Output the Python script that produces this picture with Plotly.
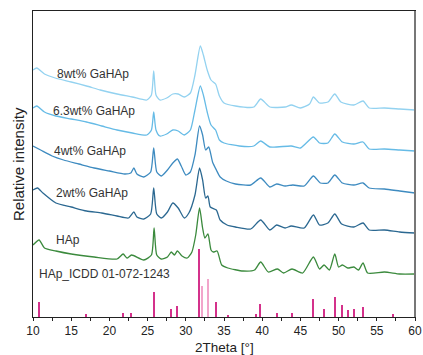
import plotly.graph_objects as go

# ---- data (intensity in arbitrary units, offset per curve) ----
x_8 = [10.0, 10.5, 11.5, 12.9, 15, 17, 18.8, 21, 23, 24.9, 25.5, 25.8, 26.1, 26.6, 27.5, 28.3, 29.0, 29.8, 30.6,
       31.2, 31.9, 32.3, 32.8, 33.3, 33.9, 34.4, 35.0, 36.5, 38.9, 39.8, 41, 43, 43.8, 45, 46.2, 46.7, 47.5, 48.6,
       49.5, 50.3, 52.0, 53.2, 54.0, 56.0, 58, 60]
y_8 = [247, 249, 243, 239, 235, 231, 227, 223, 220, 217, 222, 246, 222, 217, 219, 223, 223, 220, 224,
       242, 271, 262, 247, 237, 233, 221, 214, 211, 210, 218, 210, 210, 212, 209, 213, 220, 214, 215,
       223, 215, 212, 216, 209, 209, 208, 207]

x_63 = [10.0, 10.5, 11.5, 13, 15, 17, 19, 21, 23, 24.9, 25.5, 25.8, 26.1, 26.6, 27.5, 28.3, 29.0, 29.8, 30.6,
        31.2, 31.9, 32.3, 32.8, 33.3, 33.9, 34.4, 35.0, 37, 38.9, 39.8, 41, 43.8, 45, 46.7, 47.5, 48.6, 49.5,
        50.5, 52, 53.2, 54, 56, 58, 60]
y_63 = [209, 211, 205, 201, 198, 195, 191, 187, 184, 182, 187, 205, 187, 181, 183, 187, 186, 182, 187,
        207, 231, 222, 205, 192, 187, 177, 174, 171, 171, 176, 170, 171, 169, 180, 174, 174, 183,
        175, 173, 175, 168, 168, 167, 166]

x_4 = [10.0, 11, 12.5, 14, 16, 18, 20, 22, 22.8, 23.2, 23.6, 24.5, 25.4, 25.8, 26.2, 26.8, 27.6, 28.3, 28.9,
       29.4, 30.0, 30.6, 31.2, 31.8, 32.2, 32.6, 33.0, 33.5, 34.0, 34.5, 35.3, 36.5, 38.5, 39.8, 41.0, 41.9,
       43, 44, 45.5, 46.7, 47.6, 48.6, 49.5, 50.5, 52.0, 53.2, 54.0, 56, 58, 60]
y_4 = [171, 167, 161, 157, 153, 149, 146, 143, 144, 149, 143, 140, 145, 169, 145, 141, 147, 154, 158,
       151, 142, 145, 162, 191, 182, 167, 170, 155, 147, 140, 136, 133, 132, 139, 130, 133,
       131, 132, 131, 141, 134, 134, 142, 134, 132, 134, 129, 128, 126, 124]

x_2 = [10.0, 10.6, 11.3, 13.0, 15, 17, 19, 21, 22.5, 23.2, 23.6, 24.5, 25.4, 25.8, 26.2, 26.8, 27.6, 28.3,
       29.0, 29.8, 30.4, 31.2, 31.8, 32.2, 32.6, 32.9, 33.2, 34.0, 34.5, 35.4, 36.5, 38.5, 39.8, 41.0, 41.9,
       43.0, 43.8, 45.5, 46.7, 47.5, 48.6, 49.5, 50.4, 52.0, 53.2, 54.0, 56.0, 58, 60]
y_2 = [127, 129, 124, 114, 110, 106, 104, 101, 99, 105, 100, 98, 103, 129, 103, 99, 105, 114,
       109, 99, 104, 122, 149, 137, 119, 121, 110, 107, 97, 92, 90, 88, 97, 87, 92,
       89, 91, 89, 102, 92, 94, 103, 93, 90, 94, 87, 87, 85, 84]

x_hap = [10.0, 10.8, 11.5, 13.0, 15, 18, 21, 21.8, 22.3, 22.9, 24.5, 25.5, 25.85, 26.2, 26.8, 27.6, 28.1,
         28.5, 28.9, 29.5, 30.2, 30.8, 31.3, 31.8, 32.2, 32.5, 32.9, 33.3, 33.6, 34.1, 34.7, 35.5, 37.5,
         39.0, 39.8, 40.8, 42.0, 42.8, 43.9, 45.3, 46.7, 47.5, 48.1, 48.8, 49.5, 50.0, 50.5, 51.2, 52.0,
         52.6, 53.2, 53.8, 56.0, 58, 60]
y_hap = [72, 77, 69, 66, 63, 60, 58, 63, 59, 62, 57, 62, 89, 62, 58, 60, 65,
         62, 66, 61, 59, 65, 82, 109, 89, 79, 83, 67, 65, 66, 52, 49, 46,
         47, 55, 45, 48, 44, 48, 44, 60, 48, 52, 47, 63, 50, 52, 49, 50,
         47, 54, 44, 45, 43, 43]

ref_pos = [10.8, 16.9, 21.8, 22.9, 25.9, 28.1, 28.9, 31.8, 32.2, 32.9, 34.0, 35.5, 39.2, 39.8, 42.0, 43.9,
           46.7, 48.1, 49.5, 50.5, 51.3, 52.1, 53.2, 57.1]
ref_int = [15, 3.5, 4.5, 4.5, 25, 8, 11, 68, 31, 38, 15, 2, 3.5, 13, 4, 4,
           18, 8.5, 20, 12, 7.5, 8.5, 10, 3]

labels = ["8wt% GaHAp", "6.3wt% GaHAp", "4wt% GaHAp", "2wt% GaHAp", "HAp", "HAp_ICDD 01-072-1243"]
x_title = "2Theta [°]"
y_title = "Relative intensity"

# ---- styles ----
colors = ["#93d2f0", "#66bbe6", "#3e8bc0", "#2b6891", "#3b8a3d"]
ref_colors = ["#f2a6cb" if p in (32.2, 32.9) else "#d4318b" for p in ref_pos]

fig = go.Figure()
for xs, ys, c in [(x_8, y_8, colors[0]), (x_63, y_63, colors[1]), (x_4, y_4, colors[2]),
                  (x_2, y_2, colors[3]), (x_hap, y_hap, colors[4])]:
    fig.add_trace(go.Scatter(x=xs, y=ys, mode="lines",
                             line=dict(color=c, width=1.3, shape="spline", smoothing=0.6),
                             showlegend=False, hoverinfo="skip"))

fig.add_trace(go.Bar(x=ref_pos, y=ref_int, width=0.18, marker=dict(color=ref_colors, line=dict(width=0)),
                     showlegend=False, hoverinfo="skip"))

label_pos = [(12.9, 243), (12.4, 206), (12.5, 166), (12.8, 124), (12.8, 77), (10.5, 43)]
for t, (lx, ly) in zip(labels, label_pos):
    fig.add_annotation(x=lx, y=ly, text=t, showarrow=False, xanchor="left", yanchor="middle",
                       font=dict(family="Liberation Sans, Arial", size=12, color="#333333"))

# axis titles placed as annotations (pixel-matched)
fig.add_annotation(x=0.5, y=-30 / 306, xref="paper", yref="paper", text=x_title, showarrow=False,
                   xanchor="center", yanchor="middle", borderpad=0,
                   font=dict(family="Liberation Sans, Arial", size=13.5, color="#222"))
fig.add_annotation(x=-15 / 382, y=0.5, xref="paper", yref="paper", text=y_title, showarrow=False,
                   textangle=-90, xanchor="center", yanchor="middle",
                   font=dict(family="Liberation Sans, Arial", size=15, color="#222"))

fig.update_layout(
    width=423, height=355,
    margin=dict(l=33, r=8, t=11, b=38, autoexpand=False),
    paper_bgcolor="white", plot_bgcolor="white",
    font=dict(family="Liberation Sans, Arial", color="#222222"),
    bargap=0,
    xaxis=dict(range=[10, 60], dtick=5, tick0=10, ticks="outside", ticklen=3, tickwidth=1,
               tickcolor="#222", showline=True, linecolor="#222", linewidth=1, mirror=True,
               showgrid=False, zeroline=False, tickfont=dict(size=12, color="#222"), automargin=False,
               minor=dict(dtick=2.5, ticks="outside", ticklen=3, tickcolor="#222")),
    yaxis=dict(range=[0, 306], showticklabels=False, ticks="", showline=True, linecolor="#222",
               linewidth=1, mirror=True, showgrid=False, zeroline=False, automargin=False),
)
fig.add_shape(type="line", xref="paper", yref="paper", x0=1, x1=1, y0=0, y1=1,
              line=dict(color="#777777", width=2))

fig.write_html("out.html")
